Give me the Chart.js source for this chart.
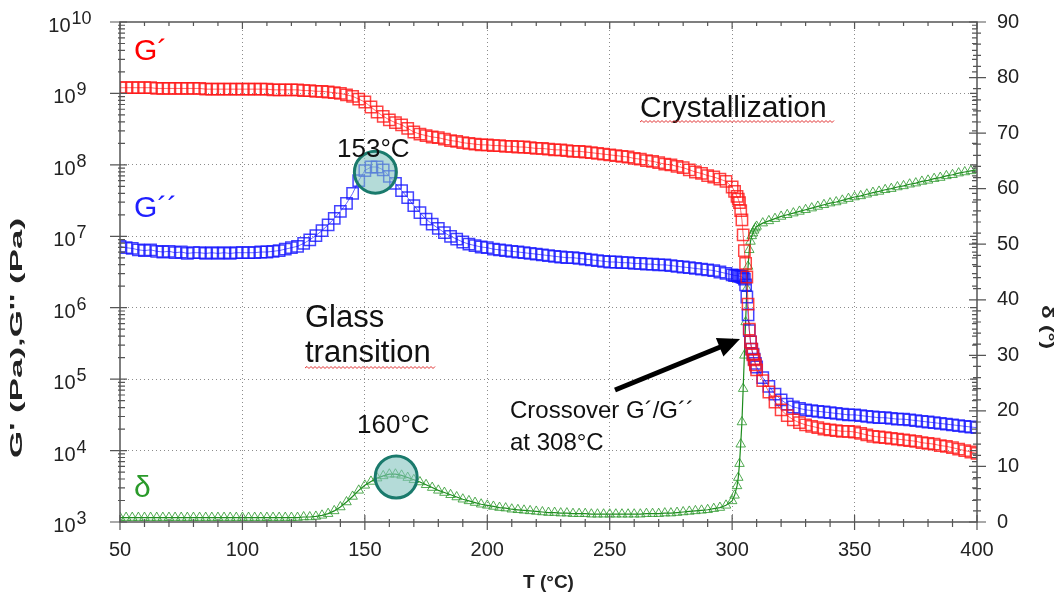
<!DOCTYPE html>
<html>
<head>
<meta charset="utf-8">
<script src="https://cdn.jsdelivr.net/npm/chart.js@4.4.1/dist/chart.umd.min.js"></script>
<style>
  body { margin: 0; background: #fff; }
  #wrap { width: 1062px; height: 601px; }
</style>
</head>
<body>
<div id="wrap"><canvas id="dmaChart" width="1062" height="601"></canvas></div>
<script>
// temperature (°C)
const temps = [
  50, 52.5, 55, 57.5, 60, 62.5, 65, 67.5, 70, 72.5, 75, 77.5, 80, 82.5, 85, 87.5, 90, 92.5, 95, 97.5, 100,
  102.5, 105, 107.5, 110, 112.5, 115, 117.5, 120, 122.5, 125, 127.5, 130, 132.5, 135, 137.5, 140,
  142.5, 145, 147.5, 150, 152.5, 155, 157.5, 160, 162.5, 165, 167.5, 170, 172.5, 175, 177.5, 180, 182.5, 185, 187.5, 190, 192.5, 195, 197.5, 200,
  202.5, 205, 207.5, 210, 212.5, 215, 217.5, 220, 222.5, 225, 227.5, 230, 232.5, 235, 237.5, 240, 242.5, 245, 247.5, 250,
  252.5, 255, 257.5, 260, 262.5, 265, 267.5, 270, 272.5, 275, 277.5, 280, 282.5, 285, 287.5, 290, 292.5, 295, 297.5, 300,
  301, 302, 302.5, 303, 303.5, 304, 304.5, 305, 305.5, 306, 306.5, 307, 307.5, 308, 308.5, 309, 309.5, 310,
  312.5, 315, 317.5, 320, 322.5, 325, 327.5, 330, 332.5, 335, 337.5, 340, 342.5, 345, 347.5, 350, 352.5, 355, 357.5, 360,
  362.5, 365, 367.5, 370, 372.5, 375, 377.5, 380, 382.5, 385, 387.5, 390, 392.5, 395, 397.5, 400
];

// log10 of G' (Pa)
const gStorageLog = [
  9.08, 9.08, 9.08, 9.08, 9.08, 9.08, 9.07, 9.07, 9.07, 9.07, 9.07, 9.07, 9.07, 9.07, 9.06, 9.06, 9.06, 9.06, 9.06, 9.06, 9.06,
  9.06, 9.06, 9.06, 9.06, 9.05, 9.05, 9.05, 9.05, 9.05, 9.04, 9.04, 9.03, 9.03, 9.02, 9.01, 9.00,
  8.98, 8.96, 8.92, 8.88, 8.81, 8.74, 8.68, 8.63, 8.59, 8.56, 8.51, 8.46, 8.43, 8.41, 8.39, 8.38, 8.36, 8.34, 8.33, 8.31, 8.30, 8.29, 8.28, 8.28,
  8.27, 8.27, 8.26, 8.26, 8.25, 8.25, 8.24, 8.23, 8.23, 8.22, 8.21, 8.21, 8.20, 8.19, 8.19, 8.18, 8.17, 8.16, 8.15, 8.14,
  8.13, 8.12, 8.11, 8.09, 8.08, 8.06, 8.05, 8.03, 8.01, 8.00, 7.98, 7.96, 7.93, 7.90, 7.88, 7.85, 7.83, 7.80, 7.77, 7.69,
  7.63, 7.56, 7.52, 7.47, 7.36, 7.23, 7.02, 6.80, 6.62, 6.43, 6.05, 5.70, 5.52, 5.42, 5.34, 5.27, 5.20, 5.13,
  4.98, 4.82, 4.68, 4.57, 4.49, 4.43, 4.39, 4.36, 4.34, 4.32, 4.30, 4.29, 4.28, 4.27, 4.27, 4.26, 4.24, 4.22, 4.20, 4.19,
  4.18, 4.17, 4.16, 4.15, 4.14, 4.13, 4.11, 4.10, 4.09, 4.07, 4.06, 4.04, 4.02, 4.00, 3.98, 3.96
];

// log10 of G'' (Pa)
const gLossLog = [
  6.86, 6.84, 6.83, 6.81, 6.80, 6.81, 6.79, 6.78, 6.79, 6.77, 6.78, 6.76, 6.77, 6.77, 6.76, 6.77, 6.76, 6.77, 6.76, 6.77, 6.77,
  6.77, 6.77, 6.78, 6.78, 6.79, 6.80, 6.82, 6.84, 6.86, 6.90, 6.95, 7.01, 7.08, 7.16, 7.25, 7.35,
  7.46, 7.60, 7.78, 7.92, 7.97, 7.97, 7.93, 7.84, 7.74, 7.64, 7.54, 7.43, 7.33, 7.24, 7.17, 7.11, 7.05, 7.00, 6.96, 6.92, 6.89, 6.87, 6.85, 6.84,
  6.82, 6.81, 6.80, 6.79, 6.78, 6.77, 6.76, 6.75, 6.74, 6.73, 6.72, 6.71, 6.70, 6.70, 6.69, 6.68, 6.67, 6.66, 6.65, 6.64,
  6.64, 6.63, 6.63, 6.62, 6.62, 6.61, 6.61, 6.60, 6.60, 6.59, 6.58, 6.57, 6.56, 6.55, 6.54, 6.53, 6.52, 6.50, 6.48, 6.46,
  6.45, 6.45, 6.45, 6.44, 6.44, 6.43, 6.42, 6.40, 6.32, 6.15, 5.90, 5.68, 5.52, 5.42, 5.35, 5.28, 5.22, 5.17,
  5.02, 4.90, 4.79, 4.71, 4.65, 4.61, 4.59, 4.57, 4.56, 4.55, 4.54, 4.53, 4.52, 4.51, 4.50, 4.50, 4.49, 4.48, 4.47, 4.46,
  4.46, 4.45, 4.44, 4.44, 4.43, 4.42, 4.41, 4.40, 4.39, 4.38, 4.37, 4.36, 4.35, 4.34, 4.33, 4.32
];

// phase angle delta (°)
const delta = [
  0.8, 0.8, 0.8, 0.8, 0.8, 0.8, 0.8, 0.8, 0.8, 0.8, 0.8, 0.8, 0.8, 0.8, 0.8, 0.8, 0.8, 0.8, 0.8, 0.8, 0.8,
  0.8, 0.8, 0.8, 0.8, 0.8, 0.8, 0.8, 0.8, 0.8, 0.9, 0.9, 1.0, 1.2, 1.5, 2.0, 2.7,
  3.6, 4.6, 5.7, 6.6, 7.3, 7.9, 8.3, 8.6, 8.6, 8.4, 8.0, 7.6, 7.2, 6.7, 6.2, 5.7, 5.3, 4.9, 4.5, 4.1, 3.8, 3.5, 3.2, 3.0,
  2.8, 2.6, 2.5, 2.3, 2.2, 2.1, 2.0, 1.9, 1.8, 1.7, 1.7, 1.6, 1.6, 1.5, 1.5, 1.5, 1.4, 1.4, 1.4, 1.4,
  1.4, 1.4, 1.4, 1.4, 1.4, 1.5, 1.5, 1.5, 1.6, 1.6, 1.7, 1.8, 1.9, 2.0, 2.1, 2.2, 2.4, 2.6, 3.0, 3.8,
  4.8, 6.5, 8.0, 10.5, 14, 18, 24, 30, 36, 42, 46, 49, 50.5, 51.5, 52, 52.5, 52.9, 53.2,
  53.8, 54.2, 54.6, 55.0, 55.3, 55.6, 55.9, 56.2, 56.5, 56.8, 57.1, 57.4, 57.6, 57.9, 58.2, 58.5, 58.7, 59.0, 59.3, 59.5,
  59.8, 60.0, 60.3, 60.5, 60.8, 61.0, 61.3, 61.5, 61.8, 62.0, 62.3, 62.5, 62.8, 63.0, 63.2, 63.4
];

const xTicks = [50, 100, 150, 200, 250, 300, 350, 400];
const decades = [3, 4, 5, 6, 7, 8, 9, 10];
const deltaTicks = [0, 10, 20, 30, 40, 50, 60, 70, 80, 90];

// peak markers
const peakMarks = [
  { t: 154.3, v: 7.9e7, axis: 'y' },
  { t: 162.8, v: 8.1, axis: 'y2' }
];

const FONT = '"Liberation Sans", Arial, sans-serif';

function wavy(ctx, x1, x2, y) {
  ctx.save();
  ctx.strokeStyle = '#e03030';
  ctx.lineWidth = 1;
  ctx.beginPath();
  let up = true;
  ctx.moveTo(x1, y);
  for (let x = x1 + 2; x <= x2; x += 2) {
    ctx.lineTo(x, up ? y - 1.5 : y + 0.5);
    up = !up;
  }
  ctx.stroke();
  ctx.restore();
}

// rotated title, stretched along its length
function rotTitle(ctx, text, x, y, angle, len) {
  ctx.save();
  ctx.translate(x, y);
  ctx.rotate(angle);
  const w = ctx.measureText(text).width;
  ctx.scale(len / w, 1);
  ctx.fillText(text, 0, 0);
  ctx.restore();
}

// pin the plot box: no extra label padding
function noPad(scale) {
  scale.paddingTop = 0;
  scale.paddingBottom = 0;
  scale.paddingLeft = 0;
  scale.paddingRight = 0;
}

const decor = {
  id: 'decor',
  afterDatasetsDraw(chart) {
    const ctx = chart.ctx;
    const xs = chart.scales.x;
    ctx.save();
    peakMarks.forEach(m => {
      const cx = xs.getPixelForValue(m.t);
      const cy = chart.scales[m.axis].getPixelForValue(m.v);
      ctx.beginPath();
      ctx.arc(cx, cy, 21, 0, Math.PI * 2);
      ctx.fillStyle = 'rgba(130, 195, 190, 0.6)';
      ctx.fill();
      ctx.lineWidth = 3;
      ctx.strokeStyle = '#1a7a6c';
      ctx.stroke();
    });
    ctx.restore();
  },
  afterDraw(chart) {
    const ctx = chart.ctx;
    const a = chart.chartArea;
    const xs = chart.scales.x, ys = chart.scales.y, y2 = chart.scales.y2;
    ctx.save();

    // frame
    ctx.strokeStyle = '#555';
    ctx.lineWidth = 1.5;
    ctx.strokeRect(a.left, a.top, a.right - a.left, a.bottom - a.top);

    ctx.lineWidth = 1.2;
    ctx.beginPath();
    for (let t = 50; t <= 400; t += 10) {
      const px = xs.getPixelForValue(t);
      const major = t % 50 === 0;
      ctx.moveTo(px, a.bottom - (major ? 7 : 3));
      ctx.lineTo(px, a.bottom + (major ? 8 : 5));
      ctx.moveTo(px, a.top);
      ctx.lineTo(px, a.top + (major ? 7 : 4));
    }
    for (let e = 3; e <= 10; e++) {
      for (let k = 1; k <= 9; k++) {
        if (e === 10 && k > 1) break;
        const py = ys.getPixelForValue(k * Math.pow(10, e));
        if (k === 1) {
          ctx.moveTo(a.left - 10, py); ctx.lineTo(a.left + 7, py);
        } else {
          ctx.moveTo(a.left - 2, py); ctx.lineTo(a.left + 5, py);
        }
        ctx.moveTo(a.right - (k === 1 ? 7 : 5), py); ctx.lineTo(a.right, py);
      }
    }
    for (let d = 0; d <= 90; d += 2) {
      const py = y2.getPixelForValue(d);
      const major = d % 10 === 0;
      ctx.moveTo(a.right - (major ? 8 : 4), py);
      ctx.lineTo(a.right + (major ? 9 : 4), py);
    }
    ctx.stroke();

    // left tick labels 10^n, centred at x = 70
    ctx.fillStyle = '#222';
    ctx.textBaseline = 'alphabetic';
    ctx.textAlign = 'left';
    decades.forEach(e => {
      const py = ys.getPixelForValue(Math.pow(10, e));
      const ex = String(e);
      ctx.font = '18px ' + FONT;
      const ew = ctx.measureText(ex).width;
      ctx.font = '20px ' + FONT;
      const bw = ctx.measureText('10').width;
      const x0 = 70 - (bw + 1 + ew) / 2;
      ctx.fillText('10', x0, py + 10);
      ctx.font = '18px ' + FONT;
      ctx.fillText(ex, x0 + bw + 1, py + 2);
    });

    // axis titles
    ctx.textAlign = 'center';
    ctx.textBaseline = 'middle';
    ctx.font = 'bold 19px ' + FONT;
    ctx.fillText('T (°C)', (a.left + a.right) / 2, 583);
    ctx.font = 'bold 16px ' + FONT;
    rotTitle(ctx, "G' (Pa),G'' (Pa)", 18, 338, -Math.PI / 2, 240);
    rotTitle(ctx, 'δ (°)', 1046, 327, Math.PI / 2, 44);

    // annotations
    ctx.textAlign = 'left';
    ctx.textBaseline = 'alphabetic';
    ctx.font = '30px ' + FONT;
    ctx.fillStyle = '#ff0000';
    ctx.fillText('G´', 134, 60);
    ctx.fillStyle = '#1f1fff';
    ctx.fillText('G´´', 134, 217);
    ctx.fillStyle = '#2a9a2a';
    ctx.fillText('δ', 134, 497);

    ctx.fillStyle = '#111';
    ctx.font = '30px ' + FONT;
    ctx.fillText('Crystallization', 640, 117);
    wavy(ctx, 640, 834, 122);
    ctx.font = '31px ' + FONT;
    ctx.fillText('Glass', 305, 327);
    ctx.fillText('transition', 305, 362);
    wavy(ctx, 305, 436, 368);
    ctx.font = '26px ' + FONT;
    ctx.fillText('153°C', 337, 157);
    ctx.fillText('160°C', 357, 433);
    ctx.font = '24px ' + FONT;
    ctx.fillText('Crossover G´/G´´', 510, 418);
    ctx.fillText('at 308°C', 510, 450);

    // arrow
    const x0 = 615, yA = 390, x1 = 740, yB = 339;
    const ang = Math.atan2(yB - yA, x1 - x0);
    ctx.strokeStyle = '#000';
    ctx.lineWidth = 5;
    ctx.beginPath();
    ctx.moveTo(x0, yA);
    ctx.lineTo(x1 - 16 * Math.cos(ang), yB - 16 * Math.sin(ang));
    ctx.stroke();
    ctx.fillStyle = '#000';
    ctx.beginPath();
    ctx.moveTo(x1, yB);
    ctx.lineTo(x1 - 22 * Math.cos(ang) + 10 * Math.sin(ang), yB - 22 * Math.sin(ang) - 10 * Math.cos(ang));
    ctx.lineTo(x1 - 22 * Math.cos(ang) - 10 * Math.sin(ang), yB - 22 * Math.sin(ang) + 10 * Math.cos(ang));
    ctx.closePath();
    ctx.fill();

    ctx.restore();
  }
};

const gridColor = 'rgba(120, 120, 120, 0.85)';

const ctx = document.getElementById('dmaChart').getContext('2d');
new Chart(ctx, {
  type: 'scatter',
  data: {
    datasets: [
      {
        label: "G'",
        data: temps.map((t, i) => ({ x: t, y: Math.pow(10, gStorageLog[i]) })),
        yAxisID: 'y',
        showLine: true,
        borderColor: 'rgba(255, 0, 0, 0.6)',
        borderWidth: 1,
        pointStyle: 'rect',
        pointRadius: 8,
        pointBorderWidth: 1.5,
        pointBorderColor: 'rgba(255, 20, 20, 0.8)',
        pointBackgroundColor: 'rgba(0,0,0,0)'
      },
      {
        label: "G''",
        data: temps.map((t, i) => ({ x: t, y: Math.pow(10, gLossLog[i]) })),
        yAxisID: 'y',
        showLine: true,
        borderColor: 'rgba(0, 0, 255, 0.6)',
        borderWidth: 1,
        pointStyle: 'rect',
        pointRadius: 8,
        pointBorderWidth: 1.5,
        pointBorderColor: 'rgba(20, 20, 255, 0.8)',
        pointBackgroundColor: 'rgba(0,0,0,0)'
      },
      {
        label: 'δ',
        data: temps.map((t, i) => ({ x: t, y: delta[i] })),
        yAxisID: 'y2',
        showLine: true,
        borderColor: 'rgb(30, 140, 30)',
        borderWidth: 1.2,
        pointStyle: 'triangle',
        pointRadius: 5.5,
        pointBorderWidth: 1,
        pointBorderColor: 'rgba(40, 150, 40, 0.8)',
        pointBackgroundColor: 'rgba(0,0,0,0)'
      }
    ]
  },
  options: {
    responsive: false,
    animation: false,
    devicePixelRatio: 1,
    layout: { padding: { top: 22, left: 0, right: 0, bottom: 0 } },
    plugins: {
      legend: { display: false },
      tooltip: { enabled: false }
    },
    scales: {
      x: {
        type: 'linear',
        min: 50,
        max: 400,
        afterBuildTicks: scale => { scale.ticks = xTicks.map(v => ({ value: v })); },
        afterFit: scale => { scale.height = 79; noPad(scale); },
        ticks: {
          color: '#222',
          font: { size: 20, family: FONT },
          padding: 16,
          maxRotation: 0
        },
        grid: {
          drawTicks: false,
          color: c => (c.tick && (c.tick.value === 50 || c.tick.value === 400)) ? 'rgba(0,0,0,0)' : gridColor
        },
        border: { display: false, dash: [1, 3] }
      },
      y: {
        type: 'logarithmic',
        position: 'left',
        min: 1e3,
        max: 1e10,
        afterBuildTicks: scale => { scale.ticks = decades.map(e => ({ value: Math.pow(10, e) })); },
        afterFit: scale => { scale.width = 120; noPad(scale); },
        ticks: { display: false },
        grid: {
          drawTicks: false,
          color: c => (c.tick && (c.tick.value <= 1e3 || c.tick.value >= 1e10)) ? 'rgba(0,0,0,0)' : gridColor
        },
        border: { display: false, dash: [1, 3] }
      },
      y2: {
        type: 'linear',
        position: 'right',
        min: 0,
        max: 90,
        afterBuildTicks: scale => { scale.ticks = deltaTicks.map(v => ({ value: v })); },
        afterFit: scale => { scale.width = 85; noPad(scale); },
        ticks: {
          color: '#222',
          font: { size: 20, family: FONT },
          padding: 20
        },
        grid: { display: false, drawTicks: false },
        border: { display: false }
      }
    }
  },
  plugins: [decor]
});
</script>
</body>
</html>
